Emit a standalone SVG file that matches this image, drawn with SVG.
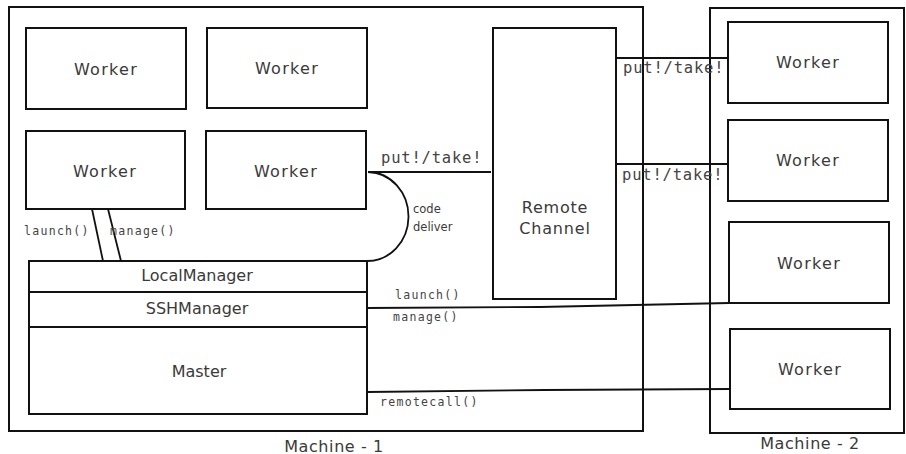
<svg xmlns="http://www.w3.org/2000/svg" width="906" height="454" viewBox="0 0 906 454">
<style>
.box{fill:#fff;stroke:#111;stroke-width:2}
.frame{fill:none;stroke:#111;stroke-width:2}
.ln{fill:none;stroke:#111;stroke-width:1.8}
.t{font-family:"DejaVu Sans",sans-serif;fill:#3a3a3a;text-anchor:middle;dominant-baseline:central}
.w{font-size:16px;letter-spacing:1.3px}
.m{font-family:"DejaVu Sans Mono","Liberation Mono",monospace;fill:#444;dominant-baseline:central}
.s{font-size:11.5px;letter-spacing:1.3px}
.big{font-size:15.5px;letter-spacing:0.8px}
</style>
<rect width="906" height="454" fill="#fff"/>
<g id="machine1">
<rect class="frame" x="9" y="7" width="634" height="424"/>
<text class="t" x="334" y="446" font-size="16" letter-spacing="0.6">Machine - 1</text>
</g>
<g id="machine2">
<rect class="frame" x="710" y="8" width="194" height="425"/>
<text class="t" x="810" y="443" font-size="16" letter-spacing="0.6">Machine -  2</text>
</g>
<g id="connectors">
<line class="ln" x1="92" y1="209" x2="103" y2="261"/>
<line class="ln" x1="108" y1="209" x2="121" y2="261"/>
<path class="ln" d="M368,172 A41,44.5 0 0 1 367,261"/>
<line class="ln" x1="368" y1="172" x2="491" y2="172"/>
<line class="ln" x1="613" y1="58" x2="728" y2="58"/>
<line class="ln" x1="617" y1="164" x2="728" y2="164"/>
<polyline class="ln" points="367,308 540,307 729,303"/>
<polyline class="ln" points="367,392 545,390 729,389"/>
</g>
<g id="labels">
<text class="m s" x="24" y="231">launch()</text>
<text class="m s" x="110" y="231">manage()</text>
<text class="t" x="413" y="209" font-size="11.5" style="text-anchor:start">code</text>
<text class="t" x="413" y="227" font-size="11.5" style="text-anchor:start">deliver</text>
<text class="m big" x="381" y="158">put!/take!</text>
<text class="m big" x="623" y="68">put!/take!</text>
<text class="m big" x="622" y="175">put!/take!</text>
<text class="m s" x="395" y="295">launch()</text>
<text class="m s" x="393" y="317">manage()</text>
<text class="m s" x="380" y="402">remotecall()</text>
</g>
<g id="worker1"><rect class="box" x="26" y="28" width="160" height="81"/><text class="t w" x="106" y="69">Worker</text></g>
<g id="worker2"><rect class="box" x="207" y="28" width="160" height="80"/><text class="t w" x="287" y="68">Worker</text></g>
<g id="worker3"><rect class="box" x="26" y="131" width="159" height="78"/><text class="t w" x="105" y="171">Worker</text></g>
<g id="worker4"><rect class="box" x="206" y="131" width="160" height="78"/><text class="t w" x="286" y="171">Worker</text></g>
<g id="remote-channel"><rect class="box" x="493" y="28" width="123" height="271"/><text class="t" x="555" y="207" font-size="16" letter-spacing="0.8">Remote</text><text class="t" x="555" y="228" font-size="16" letter-spacing="0.8">Channel</text></g>
<g id="master">
<rect class="box" x="29" y="261" width="338" height="153"/>
<line class="ln" x1="29" y1="292" x2="367" y2="292"/>
<line class="ln" x1="29" y1="327" x2="367" y2="327"/>
<text class="t" x="197" y="275" font-size="16">LocalManager</text>
<text class="t" x="197" y="308" font-size="16">SSHManager</text>
<text class="t" x="199" y="371" font-size="16">Master</text>
</g>
<g id="m2-worker1"><rect class="box" x="728" y="22" width="160" height="81"/><text class="t w" x="808" y="62">Worker</text></g>
<g id="m2-worker2"><rect class="box" x="728" y="120" width="160" height="81"/><text class="t w" x="808" y="160">Worker</text></g>
<g id="m2-worker3"><rect class="box" x="729" y="222" width="160" height="81"/><text class="t w" x="809" y="263">Worker</text></g>
<g id="m2-worker4"><rect class="box" x="730" y="329" width="160" height="80"/><text class="t w" x="810" y="369">Worker</text></g>
</svg>
